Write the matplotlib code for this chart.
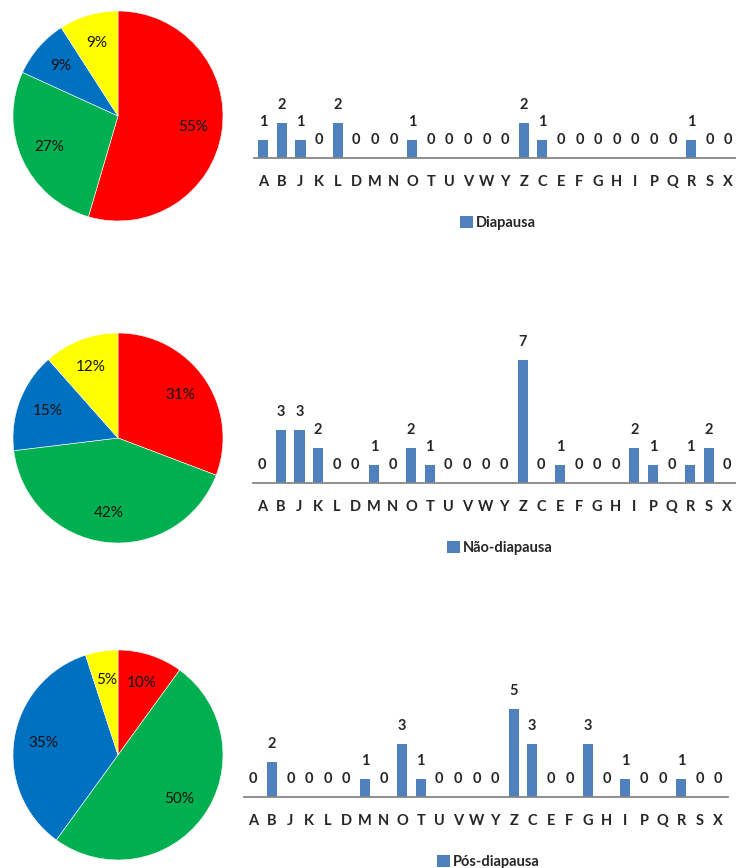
import numpy as np
import matplotlib
matplotlib.use("Agg")
import matplotlib.pyplot as plt

plt.rcParams["font.family"] = ["Lato", "DejaVu Sans"]

categories = ["A", "B", "J", "K", "L", "D", "M", "N", "O", "T", "U", "V", "W",
              "Y", "Z", "C", "E", "F", "G", "H", "I", "P", "Q", "R", "S", "X"]

diapausa = [1, 2, 1, 0, 2, 0, 0, 0, 1, 0, 0, 0, 0,
            0, 2, 1, 0, 0, 0, 0, 0, 0, 0, 1, 0, 0]
nao_diapausa = [0, 3, 3, 2, 0, 0, 1, 0, 2, 1, 0, 0, 0,
                0, 7, 0, 1, 0, 0, 0, 2, 1, 0, 1, 2, 0]
pos_diapausa = [0, 2, 0, 0, 0, 0, 1, 0, 3, 1, 0, 0, 0,
                0, 5, 3, 0, 0, 3, 0, 1, 0, 0, 1, 0, 0]

# pie groups: A-L, D-Z, C-P, Q-X
group_bounds = [(0, 5), (5, 15), (15, 22), (22, 26)]
pie_colors = ["#FF0000", "#00B050", "#0070C0", "#FFFF00"]
bar_color = "#4F81BD"
text_color = "#262626"

W, H = 736, 868
fig = plt.figure(figsize=(W / 100, H / 100), dpi=100)
fig.patch.set_facecolor("white")

def px_axes(left, top, width, height):
    return fig.add_axes([left / W, 1 - (top + height) / H, width / W, height / H])

def draw_pie(cx, cy, r, values):
    ax = px_axes(cx - r, cy - r, 2 * r, 2 * r)
    groups = [sum(values[a:b]) for a, b in group_bounds]
    ax.pie(groups, colors=pie_colors, startangle=90, counterclock=False,
           autopct="%1.0f%%", pctdistance=0.72,
           wedgeprops=dict(edgecolor="white", linewidth=0.4),
           textprops=dict(fontsize=11, color="#111111"))
    ax.set_xlim(-1, 1)
    ax.set_ylim(-1, 1)
    ax.set_aspect("equal")

def draw_bars(left, axis_y, values, name, legend_x, legend_y):
    step = 18.6
    unit = 17.6
    ymax = 8
    ax = px_axes(left, axis_y - ymax * unit, 26 * step, ymax * unit)
    x = np.arange(len(categories))
    ax.bar(x, values, width=0.55, color=bar_color, label=name)
    ax.set_xlim(-0.5, 25.5)
    ax.set_ylim(0, ymax)
    for xi, v in zip(x, values):
        ax.annotate(str(v), (xi, v), xytext=(0, 13), textcoords="offset points",
                    ha="center", va="center", fontsize=10.5, fontweight="bold",
                    color=text_color)
    ax.set_xticks(x)
    ax.set_xticklabels(categories, fontsize=10.5, fontweight="bold", color=text_color)
    ax.tick_params(axis="x", length=0, pad=12.5)
    ax.set_yticks([])
    for s in ["top", "left", "right"]:
        ax.spines[s].set_visible(False)
    ax.spines["bottom"].set_color("#868686")
    ax.spines["bottom"].set_linewidth(1.3)
    ax.patch.set_alpha(0)
    leg = ax.legend(loc="center", bbox_to_anchor=(legend_x / W, 1 - legend_y / H),
                    bbox_transform=fig.transFigure, frameon=False,
                    prop=dict(size=10.5, weight="bold"),
                    handlelength=0.9, handleheight=0.8, handletextpad=0.2)
    for t in leg.get_texts():
        t.set_color(text_color)

draw_pie(118, 116, 105, diapausa)
draw_pie(118, 438, 105, nao_diapausa)
draw_pie(118, 755, 105, pos_diapausa)

draw_bars(254, 158, diapausa, "Diapausa", 498, 223)
draw_bars(253, 483, nao_diapausa, "Não-diapausa", 500, 548)
draw_bars(244, 797, pos_diapausa, "Pós-diapausa", 488, 862)

fig.savefig("out.png", dpi=100)
